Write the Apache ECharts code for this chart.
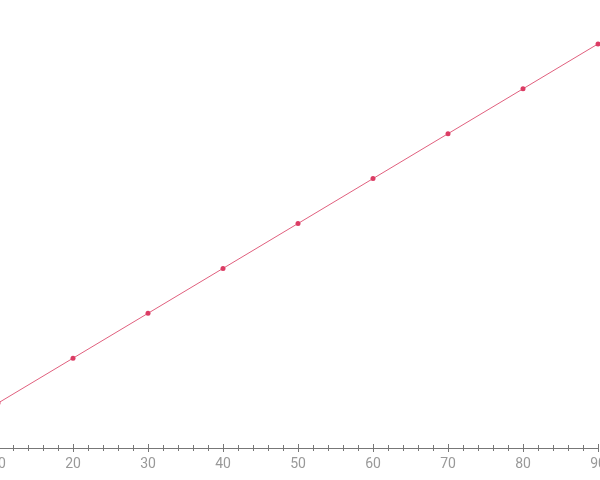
<!DOCTYPE html>
<html lang="en">
<head>
    <meta charset="UTF-8">
    <title>line</title>
    <style>
        html, body { margin: 0; padding: 0; background: #fff; }
    </style>
</head>
<body>
    <script src="https://cdn.jsdelivr.net/npm/echarts@6/dist/echarts.min.js"></script>

    <div id="main" style="width: 600px;height:480px;"></div>

    <script>
        // x 值和 y 值
        var xValues = [10, 20, 30, 40, 50, 60, 70, 80, 90];
        var yValues = [10, 20, 30, 40, 50, 60, 70, 80, 90];

        var points = [];
        for (var i = 0; i < xValues.length; i++) {
            points.push([xValues[i], yValues[i]]);
        }

        var myChart = echarts.init(document.getElementById('main'));

        var option = {
            backgroundColor: '#fff',
            animation: false,
            grid: {
                left: -2,
                right: 2,
                top: -1,
                bottom: 32,
                containLabel: false,
                outerBoundsMode: 'none'
            },
            xAxis: [
                {
                    type: 'value',
                    min: 10,
                    max: 90,
                    interval: 10,
                    position: 'bottom',
                    splitLine: { show: false },
                    axisLine: { lineStyle: { color: '#777', width: 1 } },
                    axisTick: { inside: false, length: 4, lineStyle: { color: '#777' } },
                    minorTick: { show: true, splitNumber: 5, length: 3, lineStyle: { color: '#777' } },
                    axisLabel: {
                        color: '#999',
                        fontSize: 14,
                        fontFamily: 'Roboto',
                        margin: 9,
                        showMinLabel: true,
                        showMaxLabel: true
                    }
                },
                {
                    // 同一位置再画一次刻度, 朝上
                    type: 'value',
                    min: 10,
                    max: 90,
                    interval: 10,
                    position: 'bottom',
                    splitLine: { show: false },
                    axisLine: { show: false },
                    axisTick: { inside: true, length: 4, lineStyle: { color: '#777' } },
                    minorTick: { show: true, splitNumber: 5, length: 3, lineStyle: { color: '#777' } },
                    axisLabel: { show: false }
                }
            ],
            yAxis: {
                type: 'value',
                min: 0,
                max: 100,
                show: false
            },
            series: [{
                type: 'line',
                data: points,
                xAxisIndex: 0,
                symbol: 'circle',
                symbolSize: 5,
                clip: true,
                itemStyle: { color: '#dc3c64' },
                lineStyle: { color: '#e0607e', width: 1 }
            }]
        };
        myChart.setOption(option);
    </script>
</body>
</html>
